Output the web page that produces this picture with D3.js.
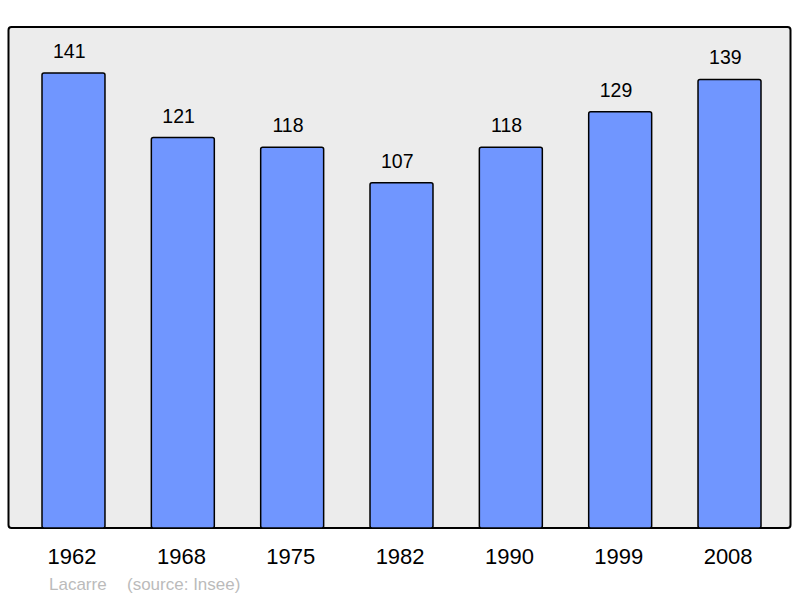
<!DOCTYPE html>
<html><head><meta charset="utf-8">
<script src="https://cdn.jsdelivr.net/npm/d3@7"></script>
<style>body{margin:0;background:#fff}svg{display:block}text{font-family:"Liberation Sans",Arial,sans-serif}</style>
</head><body>
<script>
const years = ["1962","1968","1975","1982","1990","1999","2008"];
const population = [141,121,118,107,118,129,139];
const commune = "Lacarre";
const source = "(source: Insee)";

const W=800,H=598;
const svg=d3.select("body").append("svg").attr("width",W).attr("height",H);
svg.append("rect").attr("x",8.5).attr("y",27).attr("width",782).attr("height",501)
  .attr("rx",3).attr("fill","#ececec").attr("stroke","#000").attr("stroke-width",2);

const x=d3.scaleBand().domain(years).range([42,761]).paddingInner(0.424).paddingOuter(0);
const y=d3.scaleLinear().domain([0,141]).range([528,73]);

svg.selectAll("rect.bar").data(population).join("rect").attr("class","bar")
  .attr("x",(d,i)=>x(years[i])).attr("y",d=>y(d))
  .attr("width",x.bandwidth()).attr("height",d=>y(0)-y(d))
  .attr("rx",2).attr("fill","#7096ff").attr("stroke","#000").attr("stroke-width",1.5);

svg.selectAll("text.val").data(population).join("text").attr("class","val")
  .attr("x",(d,i)=>x(years[i])+x.bandwidth()/2-4.2).attr("y",d=>y(d)-15)
  .attr("text-anchor","middle").attr("font-size",19.5).attr("fill","#000").text(d=>d);

const xa=svg.append("g").attr("transform","translate(-1.4,528)")
  .call(d3.axisBottom(x).tickSize(0).tickPadding(0));
xa.select(".domain").remove();
xa.selectAll("text").attr("font-size",22).attr("fill","#000").attr("y",36).attr("dy",0)
  .style("font-family",'"Liberation Sans",Arial,sans-serif');

svg.append("text").attr("x",49).attr("y",590).attr("font-size",17).attr("fill","#bbb").text(commune);
svg.append("text").attr("x",127).attr("y",590).attr("font-size",17).attr("fill","#bbb").text(source);
</script>
</body></html>
